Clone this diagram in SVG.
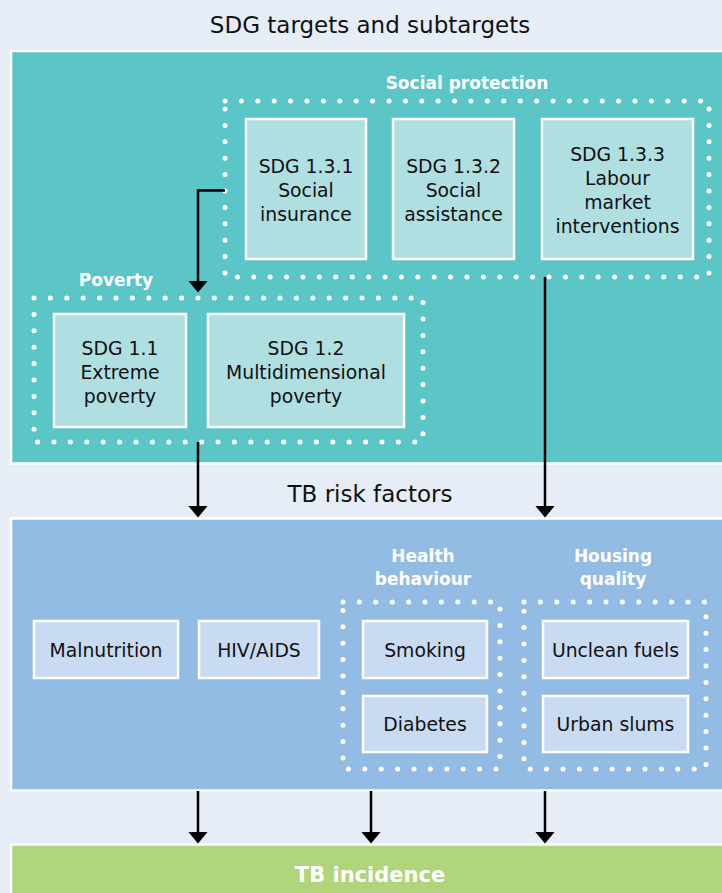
<svg xmlns="http://www.w3.org/2000/svg" width="722" height="893" viewBox="0 0 722 893">
<defs>
<marker id="ah" markerUnits="userSpaceOnUse" viewBox="0 0 12 20" refX="4" refY="10" markerWidth="12" markerHeight="20" orient="auto">
<path d="M0,0 L12,10 L0,20 z" fill="#000"/>
</marker>
<style>
.t{font-family:"DejaVu Sans",sans-serif;font-size:18.8px;fill:#111;text-anchor:middle}
.h{font-family:"DejaVu Sans",sans-serif;font-size:23px;fill:#111;text-anchor:middle}
.b{font-family:"DejaVu Sans",sans-serif;font-weight:bold;font-size:17px;fill:#fff;text-anchor:middle}
.panel{stroke:#fff;stroke-width:2.5}
.tbox{fill:#afdfe1;stroke:#fff;stroke-width:2.5}
.bbox{fill:#c8dbf2;stroke:#fff;stroke-width:2.5}
.dot{fill:none;stroke:#fff;stroke-width:5;stroke-linecap:round;stroke-dasharray:0 16.4}
.con{fill:none;stroke:#000;stroke-width:2.5;marker-end:url(#ah)}
</style>
</defs>
<rect width="722" height="893" fill="#e6edf7"/>
<text class="h" x="370" y="33">SDG targets and subtargets</text>
<rect id="sdg-panel" class="panel" x="11" y="51" width="720" height="412.5" fill="#5bc5c8"/>
<text class="h" x="370" y="502">TB risk factors</text>
<rect id="risk-panel" class="panel" x="11" y="518.5" width="720" height="272" fill="#93bce4"/>
<rect id="incidence-panel" class="panel" x="11" y="844.5" width="720" height="60" fill="#b0d57b"/>
<text class="b" x="370" y="882" style="font-size:21px">TB incidence</text>

<g id="social-protection">
<rect class="dot" x="225" y="101" width="484" height="176"/>
<text class="b" x="467" y="89">Social protection</text>
</g>
<g id="sdg131">
<rect class="tbox" x="246" y="119" width="120" height="140"/>
<text class="t" x="306" y="173">SDG 1.3.1</text>
<text class="t" x="306" y="197">Social</text>
<text class="t" x="306" y="221">insurance</text>
</g>
<g id="sdg132">
<rect class="tbox" x="393" y="119" width="121" height="140"/>
<text class="t" x="453.5" y="173">SDG 1.3.2</text>
<text class="t" x="453.5" y="197">Social</text>
<text class="t" x="453.5" y="221">assistance</text>
</g>
<g id="sdg133">
<rect class="tbox" x="542" y="119" width="151" height="140"/>
<text class="t" x="617.5" y="161">SDG 1.3.3</text>
<text class="t" x="617.5" y="185">Labour</text>
<text class="t" x="617.5" y="209">market</text>
<text class="t" x="617.5" y="233">interventions</text>
</g>

<g id="poverty">
<rect class="dot" x="34" y="298" width="389" height="144"/>
<text class="b" x="116" y="286">Poverty</text>
</g>
<g id="sdg11">
<rect class="tbox" x="54" y="314" width="132" height="113"/>
<text class="t" x="120" y="355">SDG 1.1</text>
<text class="t" x="120" y="379">Extreme</text>
<text class="t" x="120" y="403">poverty</text>
</g>
<g id="sdg12">
<rect class="tbox" x="208" y="314" width="196" height="113"/>
<text class="t" x="306" y="355">SDG 1.2</text>
<text class="t" x="306" y="379">Multidimensional</text>
<text class="t" x="306" y="403">poverty</text>
</g>

<g id="malnutrition">
<rect class="bbox" x="34" y="621" width="144" height="57"/>
<text class="t" x="106" y="657">Malnutrition</text>
</g>
<g id="hiv">
<rect class="bbox" x="199" y="621" width="120" height="57"/>
<text class="t" x="259" y="657">HIV/AIDS</text>
</g>
<g id="health-behaviour">
<rect class="dot" x="343" y="602" width="157" height="167"/>
<text class="b" x="423" y="562">Health</text>
<text class="b" x="423" y="585">behaviour</text>
</g>
<g id="smoking">
<rect class="bbox" x="363" y="621" width="124" height="57"/>
<text class="t" x="425" y="657">Smoking</text>
</g>
<g id="diabetes">
<rect class="bbox" x="363" y="696" width="124" height="56"/>
<text class="t" x="425" y="731">Diabetes</text>
</g>
<g id="housing-quality">
<rect class="dot" x="524" y="602" width="182" height="167"/>
<text class="b" x="613" y="562">Housing</text>
<text class="b" x="613" y="585">quality</text>
</g>
<g id="unclean-fuels">
<rect class="bbox" x="543" y="621" width="145" height="57"/>
<text class="t" x="615.5" y="657">Unclean fuels</text>
</g>
<g id="urban-slums">
<rect class="bbox" x="543" y="696" width="145" height="56"/>
<text class="t" x="615.5" y="731">Urban slums</text>
</g>

<g id="connectors">
<path class="con" d="M225,190.5 H198 V284.5"/>
<path class="con" d="M198,442 V509.5"/>
<path class="con" d="M545,277 V509.5"/>
<path class="con" d="M198,791 V835.5"/>
<path class="con" d="M371,791 V835.5"/>
<path class="con" d="M545,791 V835.5"/>
</g>
</svg>
